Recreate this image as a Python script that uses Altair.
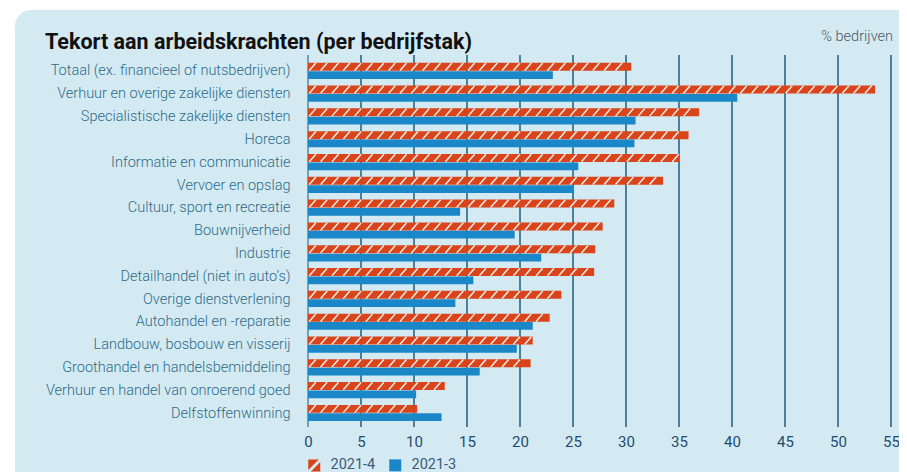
import json
import altair as alt
import pandas as pd

# ---- data ----
categories = [
    "Totaal (ex. financieel of nutsbedrijven)",
    "Verhuur en overige zakelijke diensten",
    "Specialistische zakelijke diensten",
    "Horeca",
    "Informatie en communicatie",
    "Vervoer en opslag",
    "Cultuur, sport en recreatie",
    "Bouwnijverheid",
    "Industrie",
    "Detailhandel (niet in auto’s)",
    "Overige dienstverlening",
    "Autohandel en -reparatie",
    "Landbouw, bosbouw en visserij",
    "Groothandel en handelsbemiddeling",
    "Verhuur en handel van onroerend goed",
    "Delfstoffenwinning",
]
v_2021_4 = [30.5, 53.5, 36.9, 35.9, 35.0, 33.5, 28.9, 27.8, 27.1, 27.0, 23.9, 22.8, 21.2, 21.0, 12.9, 10.3]
v_2021_3 = [23.1, 40.5, 30.9, 30.8, 25.5, 25.1, 14.35, 19.5, 22.0, 15.6, 13.9, 21.2, 19.7, 16.2, 10.2, 12.6]
series_names = ["2021-4", "2021-3"]
x_ticks = [0, 5, 10, 15, 20, 25, 30, 35, 40, 45, 50, 55]
title_text = "Tekort aan arbeidskrachten (per bedrijfstak)"
unit_text = "% bedrijven"

# ---- styling ----
ORANGE = "#d9441a"
BLUE = "#1a88c8"
CARD = "#d4eaf2"
W, H = 583, 372
HATCH = "M-1,-1 L0.75,-1 L-1,0.75 Z M1,-0.55 L1,1 L-0.55,1 Z"

rows = []
for i, c in enumerate(categories):
    rows.append({"row": i, "cat": c, "series": series_names[0], "v": v_2021_4[i]})
    rows.append({"row": i, "cat": c, "series": series_names[1], "v": v_2021_3[i]})
df = pd.DataFrame(rows)

xscale = alt.Scale(domain=[0, 55], nice=False, zero=True)
yscale = alt.Scale(domain=[-0.70, 15.61], reverse=True, zero=False, nice=False)
label_expr = json.dumps(categories, ensure_ascii=False) + "[datum.value]"

x_axis = alt.Axis(
    values=x_ticks, ticks=False, domain=False, grid=False,
    labelPadding=7, labelFontSize=15, labelFont="Roboto",
    labelColor="#1e4a70", labelFlush=False, labelOverlap=False,
    zindex=1, title=None,
)
y_axis = alt.Axis(
    values=list(range(len(categories))), labelExpr=label_expr,
    ticks=False, domain=False, grid=False, labelPadding=18,
    labelFontSize=14.5, labelFont="Roboto", labelFontWeight=300,
    labelColor="#2c6b8a", labelLimit=0, labelOverlap=False,
    zindex=1, title=None,
)

base = alt.Chart(df)

card = alt.Chart(pd.DataFrame({"a": [0]})).mark_rect(
    cornerRadius=16, color=CARD
).encode(
    x=alt.value(-293), x2=alt.value(800), y=alt.value(-45), y2=alt.value(600)
)

grid = alt.Chart(pd.DataFrame({"t": x_ticks})).mark_rule(strokeWidth=1.5).encode(
    x=alt.X("t:Q", scale=xscale, axis=x_axis, title=None),
    y=alt.value(0),
    y2=alt.value(H),
    color=alt.condition("datum.t == 0", alt.value("#4f8ba6"), alt.value("#1f5c78")),
)

bars = base.transform_calculate(
    x0="0",
    y0="datum.row + (datum.series == '2021-4' ? -0.36 : 0.01)",
    y1="datum.row + (datum.series == '2021-4' ? -0.01 : 0.35)",
    col=f"datum.series == '2021-4' ? '{ORANGE}' : '{BLUE}'",
).mark_rect().encode(
    x=alt.X("x0:Q", scale=xscale, axis=x_axis, title=None),
    x2="v:Q",
    y=alt.Y("y0:Q", scale=yscale, axis=y_axis, title=None),
    y2="y1:Q",
    color=alt.Color("col:N", scale=None),
)

stripes = base.transform_filter("datum.series == '2021-4'").transform_calculate(
    s="sequence(0.12, datum.v - 0.6, 1.07)"
).transform_flatten(["s"]).transform_calculate(
    s2="datum.s + 0.62",
    yb="datum.row - 0.02",
    yt="datum.row - 0.35",
).mark_rule(color="white", strokeWidth=1.5, opacity=0.9).encode(
    x=alt.X("s:Q", scale=xscale, axis=x_axis, title=None),
    x2="s2:Q",
    y=alt.Y("yb:Q", scale=yscale, axis=y_axis, title=None),
    y2="yt:Q",
)

leg = alt.Legend(
    title=None, orient="none", legendX=-1, legendY=403, direction="horizontal",
    symbolSize=144, symbolStrokeWidth=0, symbolOpacity=1,
    labelFontSize=14.5, labelFont="Roboto", labelColor="#3d5a78",
    labelOffset=9, columnPadding=12,
)
legend_pts = base.mark_point(filled=True, opacity=0).encode(
    x=alt.X("v:Q", scale=xscale, axis=x_axis, title=None),
    y=alt.Y("row:Q", scale=yscale, axis=y_axis, title=None),
    color=alt.Color("series:N", scale=alt.Scale(domain=series_names, range=[ORANGE, BLUE]), legend=leg),
    shape=alt.Shape("series:N", scale=alt.Scale(domain=series_names, range=[HATCH, "square"]), legend=leg),
)

title = alt.Chart(pd.DataFrame({"t": [title_text]})).mark_text(
    align="left", baseline="alphabetic", font="Roboto", fontSize=21.5,
    fontWeight="bold", color="#111111",
).encode(x=alt.value(-263), y=alt.value(-6.5), text="t:N")

unit = alt.Chart(pd.DataFrame({"t": [unit_text]})).mark_text(
    align="right", baseline="alphabetic", font="Roboto", fontSize=14.5,
    fontWeight=300, color="#4a5868",
).encode(x=alt.value(585), y=alt.value(-14), text="t:N")

chart = alt.layer(card, grid, bars, stripes, legend_pts, title, unit).properties(
    width=W, height=H,
    autosize=alt.AutoSizeParams(type="none"),
    padding={"left": 300, "top": 47, "right": 8, "bottom": 45},
    background="white",
).configure_view(stroke=None)

chart.save("out.html", embed_options={"renderer": "svg", "actions": False})
